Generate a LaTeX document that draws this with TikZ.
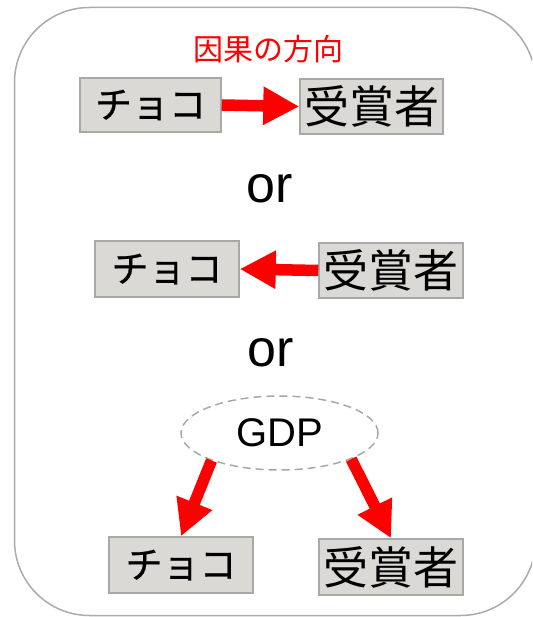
\documentclass[tikz,border=0pt]{standalone}
\usepackage{fontspec}
\setmainfont{Liberation Sans}
\newfontfamily\jp{Noto Sans CJK JP}
\newfontfamily\jpk[FakeBold=0.6]{Noto Sans CJK JP}
\usetikzlibrary{arrows.meta,shapes.geometric}
\definecolor{boxfill}{HTML}{DAD9D5}
\definecolor{boxline}{HTML}{A8A8A6}
\definecolor{frameline}{HTML}{ABABAB}
\tikzset{
  graybox/.style={draw=boxline, fill=boxfill, line width=1.5pt, inner sep=0pt,
    minimum width=144pt, minimum height=55pt},
  chocotext/.style={font=\jpk\fontsize{37}{40}\selectfont},
  jushotext/.style={font=\jp\fontsize{45}{48}\selectfont},
  bigarrow/.style={draw=red, line width=11.5pt, -{Triangle[length=36pt,width=36pt,fill=red]}},
  ortext/.style={font=\fontsize{52}{56}\selectfont, anchor=base, inner sep=0pt},
}
\begin{document}
\begin{tikzpicture}[x=1pt,y=-1pt]
\useasboundingbox (0,0) rectangle (532,617);
\clip (0,0) rectangle (532,617);
\draw[frameline, line width=1.5pt, rounded corners=75pt] (14.5,7.5) rectangle (535.5,615.5);

\node[text=red, font=\jp\fontsize{30}{32}\selectfont] (title) at (268,49) {因果の方向};

\node[graybox, chocotext, minimum width=141pt, minimum height=54pt] (choco1) at (150.5,105) {チョコ};
\node[graybox, jushotext, minimum width=143pt] (jusho1) at (371.5,106.5) {受賞者};
\draw[bigarrow] (choco1.east) -- (jusho1.west);

\node[ortext] (or1) at (269.5,203) {or};

\node[graybox, chocotext, minimum height=56pt] (choco2) at (167,269) {チョコ};
\node[graybox, jushotext] (jusho2) at (391,270.5) {受賞者};
\draw[bigarrow] (jusho2.west) -- (choco2.east);

\node[ortext] (or2) at (270.5,366) {or};

\node[ellipse, draw=boxline, line width=1.5pt, dash pattern=on 8pt off 5pt,
  minimum width=197pt, minimum height=74pt, inner sep=0pt,
  font=\fontsize{40}{44}\selectfont] (gdp) at (279.5,433) {GDP};

\node[graybox, chocotext, minimum height=56pt] (choco3) at (181,565) {チョコ};
\node[graybox, jushotext, minimum height=56pt] (jusho3) at (391,567) {受賞者};
\draw[bigarrow] (gdp.202) -- (choco3.north);
\draw[bigarrow] (gdp.-20) -- (jusho3.north);
\end{tikzpicture}
\end{document}
